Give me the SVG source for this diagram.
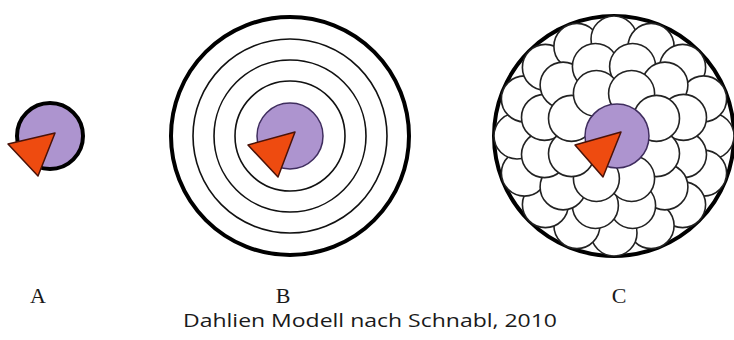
<svg xmlns="http://www.w3.org/2000/svg" width="734" height="340" viewBox="0 0 734 340">
<style>
.core{fill:#AD94CF;stroke:#3f2d5e;stroke-width:1.5}
.tri{fill:#EE4B10;stroke:#4a1208;stroke-width:1.5;stroke-linejoin:round}
.ring{fill:none;stroke:#111;stroke-width:1.6}
.outer{fill:none;stroke:#000;stroke-width:4}
.petal{fill:#fff;stroke:#222;stroke-width:1.6}
.lbl{font-family:"Liberation Serif",serif;font-size:22px;fill:#1a1a1a;text-anchor:middle}
.cap{font-family:"Open Sans","Liberation Sans",sans-serif;font-size:19px;fill:#1a1a1a;text-anchor:middle}
</style>
<g id="A">
<circle cx="50" cy="136" r="33" fill="#AD94CF" stroke="#000" stroke-width="4"/>
<polygon class="tri" points="8,144 55,133 38,176"/>
</g>
<g id="B">
<circle class="outer" cx="290" cy="136" r="119"/>
<circle class="ring" cx="290" cy="136" r="97"/>
<circle class="ring" cx="290" cy="136" r="76"/>
<circle class="ring" cx="290" cy="136" r="55"/>
<circle class="core" cx="290" cy="136" r="33"/>
<polygon class="tri" points="248,145 295,132 278,177"/>
</g>
<g id="C">
<circle class="outer" cx="614" cy="136" r="120"/>
<g id="C-ring3">
<circle class="petal" cx="711" cy="136" r="23"/>
<circle class="petal" cx="703.6" cy="173.1" r="23"/>
<circle class="petal" cx="682.6" cy="204.6" r="23"/>
<circle class="petal" cx="651.1" cy="225.6" r="23"/>
<circle class="petal" cx="614" cy="233" r="23"/>
<circle class="petal" cx="576.9" cy="225.6" r="23"/>
<circle class="petal" cx="545.4" cy="204.6" r="23"/>
<circle class="petal" cx="524.4" cy="173.1" r="23"/>
<circle class="petal" cx="517" cy="136" r="23"/>
<circle class="petal" cx="524.4" cy="98.9" r="23"/>
<circle class="petal" cx="545.4" cy="67.4" r="23"/>
<circle class="petal" cx="576.9" cy="46.4" r="23"/>
<circle class="petal" cx="614" cy="39" r="23"/>
<circle class="petal" cx="651.1" cy="46.4" r="23"/>
<circle class="petal" cx="682.6" cy="67.4" r="23"/>
<circle class="petal" cx="703.6" cy="98.9" r="23"/>
</g>
<g id="C-ring2">
<circle class="petal" cx="683.5" cy="154.6" r="23"/>
<circle class="petal" cx="664.9" cy="186.9" r="23"/>
<circle class="petal" cx="632.6" cy="205.5" r="23"/>
<circle class="petal" cx="595.4" cy="205.5" r="23"/>
<circle class="petal" cx="563.1" cy="186.9" r="23"/>
<circle class="petal" cx="544.5" cy="154.6" r="23"/>
<circle class="petal" cx="544.5" cy="117.4" r="23"/>
<circle class="petal" cx="563.1" cy="85.1" r="23"/>
<circle class="petal" cx="595.4" cy="66.5" r="23"/>
<circle class="petal" cx="632.6" cy="66.5" r="23"/>
<circle class="petal" cx="664.9" cy="85.1" r="23"/>
<circle class="petal" cx="683.5" cy="117.4" r="23"/>
</g>
<g id="C-ring1">
<circle class="petal" cx="656.5" cy="153.6" r="23"/>
<circle class="petal" cx="631.6" cy="178.5" r="23"/>
<circle class="petal" cx="596.4" cy="178.5" r="23"/>
<circle class="petal" cx="571.5" cy="153.6" r="23"/>
<circle class="petal" cx="571.5" cy="118.4" r="23"/>
<circle class="petal" cx="596.4" cy="93.5" r="23"/>
<circle class="petal" cx="631.6" cy="93.5" r="23"/>
<circle class="petal" cx="656.5" cy="118.4" r="23"/>
</g>
<circle class="core" cx="617" cy="136" r="32"/>
<polygon class="tri" points="575,145 621,132 603,177"/>
</g>
<g id="labels">
<text class="lbl" x="38" y="303">A</text>
<text class="lbl" x="283" y="303">B</text>
<text class="lbl" x="619" y="303">C</text>
<text class="cap" x="370" y="327" textLength="374" lengthAdjust="spacingAndGlyphs">Dahlien Modell nach Schnabl, 2010</text>
</g>
</svg>
